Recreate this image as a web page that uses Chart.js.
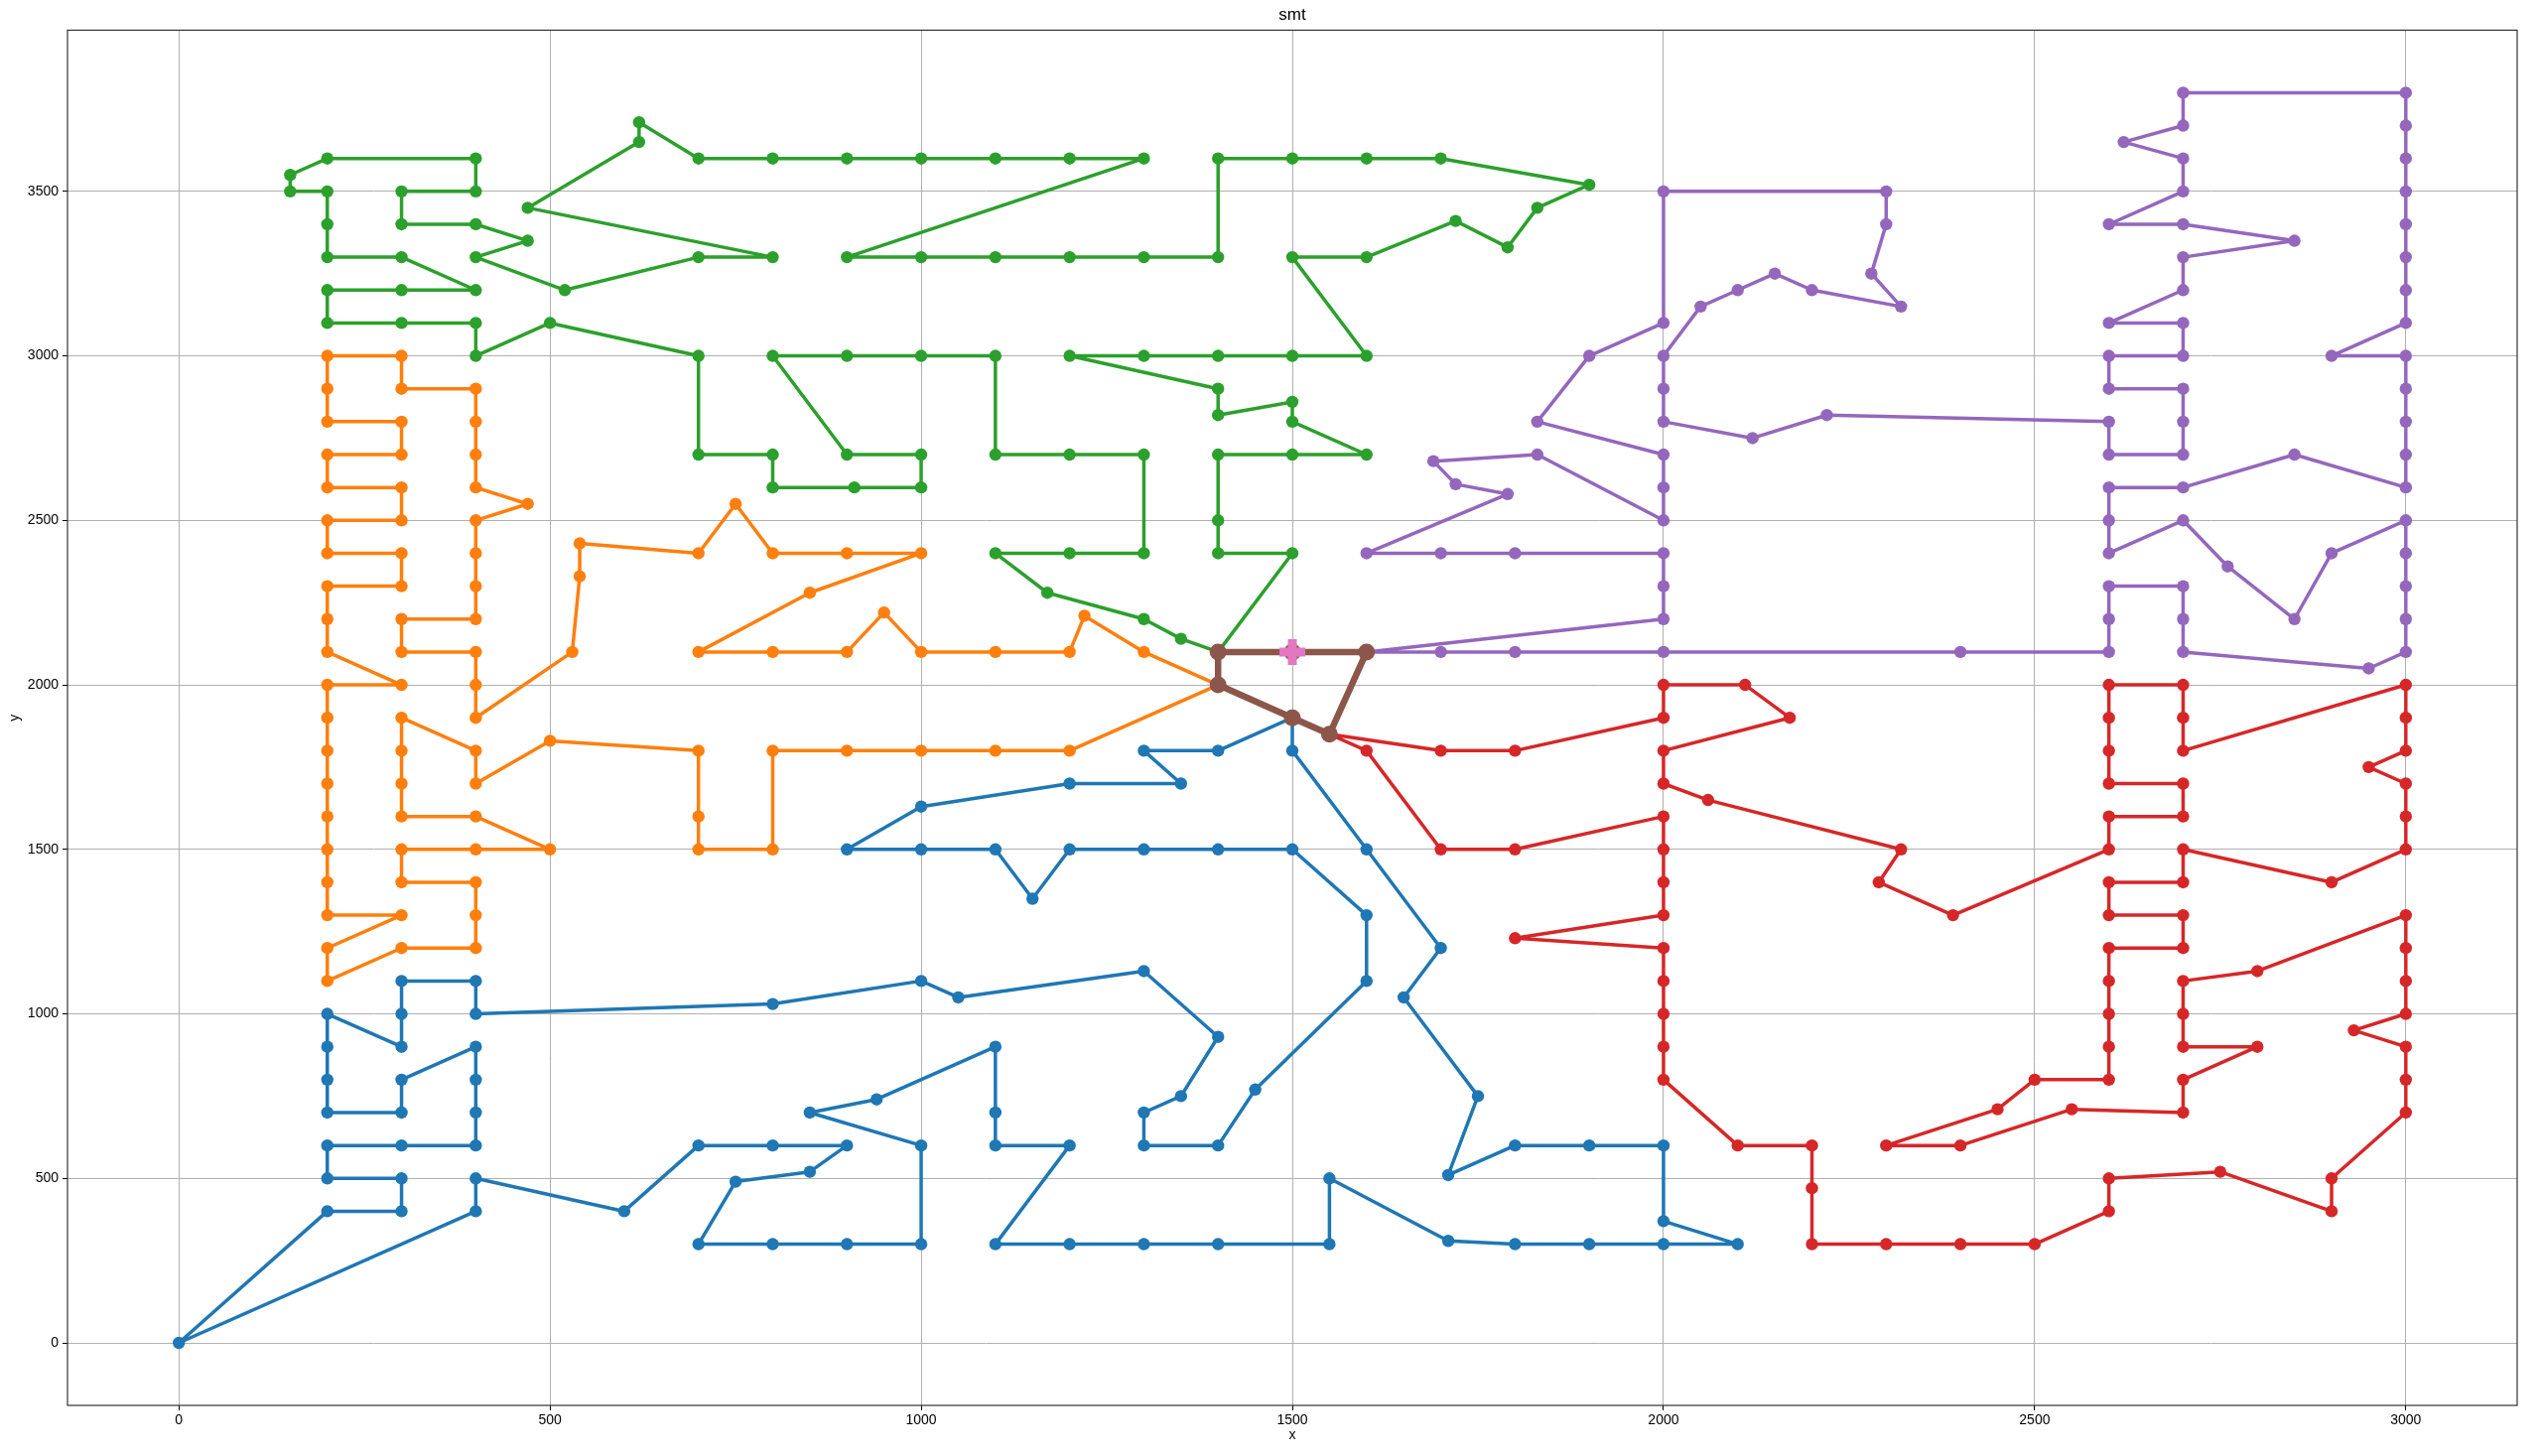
<!DOCTYPE html>
<html>
<head>
<meta charset="utf-8">
<script src="https://cdn.jsdelivr.net/npm/chart.js@4.4.1/dist/chart.umd.min.js"></script>
<style>
html,body{margin:0;padding:0;background:#fff;overflow:hidden}
#wrap{width:2558px;height:1467px;position:relative}
canvas{display:block}
</style>
</head>
<body>
<div id="wrap"><canvas id="c" width="2558" height="1467"></canvas></div>
<script>
// ---- data ----
const chartTitle = 'smt';
const xTicks = [0, 500, 1000, 1500, 2000, 2500, 3000];
const yTicks = [0, 500, 1000, 1500, 2000, 2500, 3000, 3500];

// route 1 (blue)
const blueX = [1500,1400,1300,1350,1200,1000,900,1000,1100,1150,1200,1300,1400,1500,1600,1600,1450,1400,1300,1300,1350,1400,1300,1050,1000,800,400,400,300,300,300,200,200,200,200,300,300,400,400,400,400,300,200,200,300,300,200,0,400,400,600,700,800,900,850,750,700,800,900,1000,1000,850,940,1100,1100,1100,1200,1100,1200,1300,1400,1550,1550,1710,1800,1900,2000,2100,2000,2000,1900,1800,1710,1750,1650,1700,1600,1500];
const blueY = [1900,1800,1800,1700,1700,1630,1500,1500,1500,1350,1500,1500,1500,1500,1300,1100,770,600,600,700,750,930,1130,1050,1100,1030,1000,1100,1100,1000,900,1000,900,800,700,700,800,900,800,700,600,600,600,500,500,400,400,0,400,500,400,600,600,600,520,490,300,300,300,300,600,700,740,900,700,600,600,300,300,300,300,300,500,310,300,300,300,300,370,600,600,600,510,750,1050,1200,1500,1800];

// route 2 (orange)
const orangeX = [1400,1300,1220,1200,1100,1000,950,900,800,700,850,1000,900,800,750,700,540,540,530,400,400,400,300,300,400,400,400,400,470,400,400,400,400,300,300,200,200,200,300,300,200,200,300,300,200,200,300,300,200,200,200,300,200,200,200,200,200,200,200,200,300,200,200,300,400,400,400,300,300,400,500,400,300,300,300,300,400,400,500,700,700,700,800,800,900,1000,1100,1200];
const orangeY = [2000,2100,2210,2100,2100,2100,2220,2100,2100,2100,2280,2400,2400,2400,2550,2400,2430,2330,2100,1900,2000,2100,2100,2200,2200,2300,2400,2500,2550,2600,2700,2800,2900,2900,3000,3000,2900,2800,2800,2700,2700,2600,2600,2500,2500,2400,2400,2300,2300,2200,2100,2000,2000,1900,1800,1700,1600,1500,1400,1300,1300,1200,1100,1200,1200,1300,1400,1400,1500,1500,1500,1600,1600,1700,1800,1900,1800,1700,1830,1800,1600,1500,1500,1800,1800,1800,1800,1800];

// route 3 (green)
const greenX = [1400,1350,1300,1170,1100,1200,1300,1300,1200,1100,1100,1000,900,800,900,1000,1000,910,800,800,700,700,500,400,400,300,200,200,300,400,300,200,200,200,150,150,200,400,400,300,300,400,470,400,520,700,800,470,620,620,700,800,900,1000,1100,1200,1300,900,1000,1100,1200,1300,1400,1400,1500,1600,1700,1900,1830,1790,1720,1600,1500,1600,1500,1400,1300,1200,1400,1400,1500,1500,1600,1500,1400,1400,1400,1500];
const greenY = [2100,2140,2200,2280,2400,2400,2400,2700,2700,2700,3000,3000,3000,3000,2700,2700,2600,2600,2600,2700,2700,3000,3100,3000,3100,3100,3100,3200,3200,3200,3300,3300,3400,3500,3500,3550,3600,3600,3500,3500,3400,3400,3350,3300,3200,3300,3300,3450,3650,3710,3600,3600,3600,3600,3600,3600,3600,3300,3300,3300,3300,3300,3300,3600,3600,3600,3600,3520,3450,3330,3410,3300,3300,3000,3000,3000,3000,3000,2900,2820,2860,2800,2700,2700,2700,2500,2400,2400];

// route 4 (red)
const redX = [1550,1700,1800,2000,2000,2110,2170,2000,2000,2060,2320,2290,2390,2600,2600,2700,2700,2600,2600,2600,2600,2700,2700,2700,3000,3000,3000,2950,3000,3000,3000,2900,2700,2700,2600,2600,2700,2700,2600,2600,2600,2600,2600,2500,2450,2300,2400,2550,2700,2700,2800,2700,2700,2700,2800,3000,3000,3000,3000,2930,3000,3000,3000,2900,2900,2750,2600,2600,2500,2400,2300,2200,2200,2200,2100,2000,2000,2000,2000,2000,1800,2000,2000,2000,2000,1800,1700,1600];
const redY = [1850,1800,1800,1900,2000,2000,1900,1800,1700,1650,1500,1400,1300,1500,1600,1600,1700,1700,1800,1900,2000,2000,1900,1800,2000,1900,1800,1750,1700,1600,1500,1400,1500,1400,1400,1300,1300,1200,1200,1100,1000,900,800,800,710,600,600,710,700,800,900,900,1000,1100,1130,1300,1200,1100,1000,950,900,800,700,500,400,520,500,400,300,300,300,300,470,600,600,800,900,1000,1100,1200,1230,1300,1400,1500,1600,1500,1500,1800];

// route 5 (purple)
const purpleX = [1600,2000,2000,2000,1800,1700,1600,1790,1720,1690,1830,2000,2000,2000,1830,1900,2000,2000,2300,2300,2280,2320,2200,2150,2100,2050,2000,2000,2000,2120,2220,2600,2600,2700,2700,2700,2600,2600,2700,2700,2600,2700,2700,2850,2700,2600,2700,2700,2620,2700,2700,3000,3000,3000,3000,3000,3000,3000,3000,2900,3000,3000,3000,3000,3000,2850,2700,2600,2600,2600,2700,2760,2850,2900,3000,3000,3000,3000,3000,2950,2700,2700,2700,2600,2600,2600,2400,2000,1800,1700];
const purpleY = [2100,2200,2300,2400,2400,2400,2400,2580,2610,2680,2700,2500,2600,2700,2800,3000,3100,3500,3500,3400,3250,3150,3200,3250,3200,3150,3000,2900,2800,2750,2820,2800,2700,2700,2800,2900,2900,3000,3000,3100,3100,3200,3300,3350,3400,3400,3500,3600,3650,3700,3800,3800,3700,3600,3500,3400,3300,3200,3100,3000,3000,2900,2800,2700,2600,2700,2600,2600,2500,2400,2500,2360,2200,2400,2500,2400,2300,2200,2100,2050,2100,2200,2300,2300,2200,2100,2100,2100,2100,2100];

// route 6 (brown, central links)
const brownX = [1500,1600,1550,1500,1400,1400];
const brownY = [2100,2100,1850,1900,2000,2100];

// depot (pink)
const depotX = [1500];
const depotY = [2100];

// ---- build datasets ----
function closedPoints(xs, ys) {
  const p = xs.map((x, i) => ({x: x, y: ys[i]}));
  p.push({x: xs[0], y: ys[0]});
  return p;
}
function routeDataset(label, xs, ys, color, lw, r, order) {
  return {
    label: label,
    data: closedPoints(xs, ys),
    showLine: true,
    borderColor: color,
    backgroundColor: color,
    borderWidth: lw,
    borderJoinStyle: 'round',
    borderCapStyle: 'round',
    tension: 0,
    fill: false,
    pointRadius: r,
    pointHoverRadius: r,
    pointBackgroundColor: color,
    pointBorderColor: color,
    pointBorderWidth: 0,
    order: order
  };
}

const datasets = [
  {
    label: 'depot',
    data: depotX.map((x, i) => ({x: x, y: depotY[i]})),
    showLine: false,
    pointStyle: 'cross',
    pointRadius: 13,
    pointHoverRadius: 13,
    pointBorderWidth: 9,
    pointBorderColor: '#e377c2',
    pointBackgroundColor: '#e377c2',
    borderColor: '#e377c2',
    backgroundColor: '#e377c2',
    order: 1
  },
  routeDataset('links', brownX, brownY, '#8c564b', 6.5, 8.5, 2),
  routeDataset('route 5', purpleX, purpleY, '#9467bd', 3.5, 6.2, 3),
  routeDataset('route 4', redX, redY, '#d62728', 3.5, 6.2, 4),
  routeDataset('route 3', greenX, greenY, '#2ca02c', 3.5, 6.2, 5),
  routeDataset('route 2', orangeX, orangeY, '#ff7f0e', 3.5, 6.2, 6),
  routeDataset('route 1', blueX, blueY, '#1f77b4', 3.5, 6.2, 7)
];

const frame = {
  id: 'frame',
  afterDatasetsDraw(chart) {
    const a = chart.chartArea;
    const ctx = chart.ctx;
    ctx.save();
    ctx.strokeStyle = '#333';
    ctx.lineWidth = 1.2;
    ctx.strokeRect(a.left, a.top, a.right - a.left, a.bottom - a.top);
    ctx.restore();
  }
};

Chart.defaults.font.family = '"Liberation Sans", Arial, Helvetica, sans-serif';
Chart.defaults.color = '#000';

new Chart(document.getElementById('c'), {
  type: 'scatter',
  data: { datasets: datasets },
  plugins: [frame],
  options: {
    responsive: false,
    devicePixelRatio: 1,
    animation: false,
    events: [],
    layout: { padding: { left: 0, right: 7, top: 0, bottom: 0 } },
    plugins: {
      legend: { display: false },
      tooltip: { enabled: false },
      title: {
        display: true,
        text: chartTitle,
        fullSize: false,
        color: '#000',
        font: { size: 17, weight: 'normal' },
        padding: { top: 5, bottom: 5 }
      }
    },
    scales: {
      x: {
        type: 'linear',
        position: 'bottom',
        min: -150,
        max: 3150,
        afterBuildTicks: s => { s.ticks = xTicks.map(v => ({value: v})); },
        afterFit: s => { s.height = 51; },
        ticks: { font: { size: 14 }, color: '#000', padding: 2, maxRotation: 0, autoSkip: false, callback: v => String(v) },
        grid: { color: '#b0b0b0', lineWidth: 1, tickLength: 5, tickColor: '#000', tickWidth: 1 },
        border: { display: false },
        title: { display: true, text: 'x', color: '#000', font: { size: 14 }, padding: { top: 0, bottom: 12 } }
      },
      y: {
        type: 'linear',
        position: 'left',
        min: -190,
        max: 3990,
        afterBuildTicks: s => { s.ticks = yTicks.map(v => ({value: v})); },
        afterFit: s => { s.width = 68; },
        ticks: { font: { size: 14 }, color: '#000', padding: 4, autoSkip: false, callback: v => String(v) },
        grid: { color: '#b0b0b0', lineWidth: 1, tickLength: 5, tickColor: '#000', tickWidth: 1 },
        border: { display: false },
        title: { display: true, text: 'y', color: '#000', font: { size: 14 }, padding: { top: 7, bottom: 0 } }
      }
    }
  }
});
</script>
</body>
</html>
